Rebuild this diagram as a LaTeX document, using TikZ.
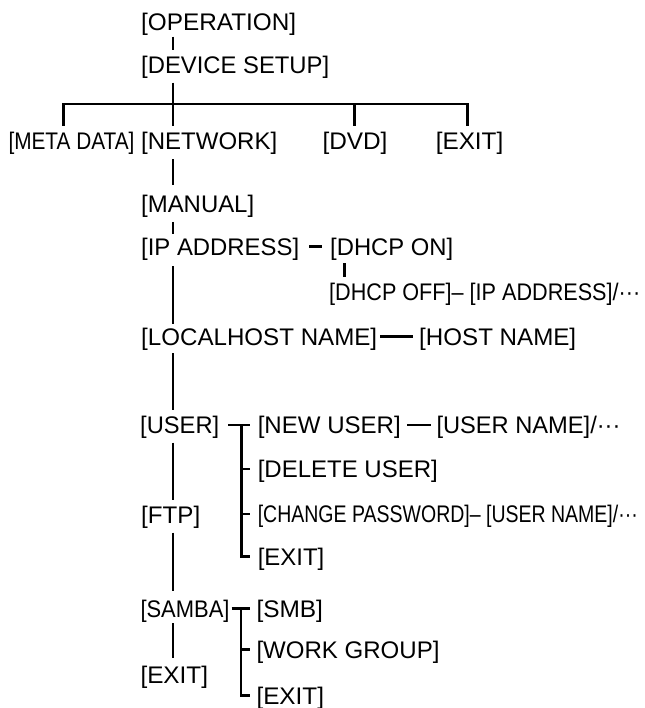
\documentclass[tikz,border=0pt]{standalone}
\usepackage{fontspec}
\setmainfont{Liberation Sans}
\usepackage{graphicx}
\newcommand\lbl[2]{\resizebox{#1pt}{\height}{#2}}
\tikzset{
  lab/.style={anchor=base west, inner sep=0pt, outer sep=0pt, text height=17pt, text depth=0pt,
    font=\fontsize{24pt}{28pt}\selectfont},
  conn/.style={line width=2.6pt, line cap=butt}
}
\begin{document}
\begin{tikzpicture}[x=1pt,y=-1pt]
\useasboundingbox (0,0) rectangle (644,708);
% labels
\node[lab] (op) at (141.2,30.7) {\lbl{155}{[OPERATION]}};
\node[lab] (dev) at (141.2,74) {\lbl{188}{[DEVICE SETUP]}};
\node[lab] (meta) at (8.5,150) {\lbl{126}{[META DATA]}};
\node[lab] (net) at (141.2,150) {\lbl{136}{[NETWORK]}};
\node[lab] (dvd) at (322.5,150) {\lbl{65}{[DVD]}};
\node[lab] (exitA) at (435.8,150) {\lbl{67.5}{[EXIT]}};
\node[lab] (manual) at (141.2,212.3) {\lbl{113}{[MANUAL]}};
\node[lab] (ip) at (141.2,255) {\lbl{158}{[IP ADDRESS]}};
\node[lab] (dhcpon) at (330.2,255) {\lbl{123}{[DHCP ON]}};
\node[lab] (dhcpoff) at (329.2,300) {\lbl{311}{[DHCP OFF]– [IP ADDRESS]/···}};
\node[lab] (localhost) at (141.2,345) {\lbl{236}{[LOCALHOST NAME]}};
\node[lab] (hostname) at (419.2,345) {\lbl{157}{[HOST NAME]}};
\node[lab] (user) at (140.2,433.3) {\lbl{79}{[USER]}};
\node[lab] (newuser) at (257.8,433.3) {\lbl{143}{[NEW USER]}};
\node[lab] (username) at (436.5,433.3) {\lbl{184}{[USER NAME]/···}};
\node[lab] (deluser) at (257.8,477.3) {\lbl{180}{[DELETE USER]}};
\node[lab] (ftp) at (141.2,523.3) {\lbl{59}{[FTP]}};
\node[lab] (change) at (257.8,522.5) {\lbl{380}{[CHANGE PASSWORD]– [USER NAME]/···}};
\node[lab] (exitB) at (257.8,565) {\lbl{66.5}{[EXIT]}};
\node[lab] (samba) at (140.5,617) {\lbl{89}{[SAMBA]}};
\node[lab] (smb) at (256.5,617) {\lbl{66.5}{[SMB]}};
\node[lab] (workgroup) at (256.5,658) {\lbl{183}{[WORK GROUP]}};
\node[lab] (exitC) at (140.5,683.3) {\lbl{67.5}{[EXIT]}};
\node[lab] (exitD) at (256.5,704) {\lbl{67.5}{[EXIT]}};
% helper coordinates
\coordinate (tx) at (173,0);
\coordinate (d1) at (63.3,104);
\coordinate (d2) at (173,104);
\coordinate (d3) at (354.5,104);
\coordinate (d4) at (467.3,104);
\coordinate (dx) at (344.3,0);
\coordinate (ux) at (241.7,0);
\coordinate (sx) at (241,0);
% trunk
\draw[conn, shorten <=6, shorten >=7] (op.south -| tx) -- (dev.north -| tx);
\draw[conn, shorten <=8.7] (dev.south -| tx) -- (d2);
\draw[conn, shorten <=7, shorten >=7] (meta.north -| d1) -- (d1) -- (d4) -- (exitA.north -| d4);
\draw[conn, shorten >=7] (d2) -- (net.north -| d2);
\draw[conn, shorten >=7] (d3) -- (dvd.north -| d3);
\draw[conn, shorten <=9.3, shorten >=10.3] (net.south -| tx) -- (manual.north -| tx);
\draw[conn, shorten <=9.7, shorten >=4] (manual.south -| tx) -- (ip.north -| tx);
\draw[conn, shorten <=11, shorten >=4] (ip.south -| tx) -- (localhost.north -| tx);
\draw[conn, shorten <=8.3, shorten >=6.3] (localhost.south -| tx) -- (user.north -| tx);
\draw[conn, shorten <=9.4, shorten >=6.3] (user.south -| tx) -- (ftp.north -| tx);
\draw[conn, shorten <=9.4, shorten >=9.3] (ftp.south -| tx) -- (samba.north -| tx);
\draw[conn, shorten <=6, shorten >=8.3] (samba.south -| tx) -- (exitC.north -| tx);
% IP branch
\draw[conn, shorten <=9.8, shorten >=8.5] (ip.east) -- (dhcpon.west);
\draw[conn, shorten <=8.3, shorten >=6.3] (dhcpon.south -| dx) -- (dhcpoff.north -| dx);
% host name
\draw[conn, shorten <=2.8, shorten >=6.5] (localhost.east) -- (hostname.west);
% user branch
\draw[conn, shorten <=9.1, shorten >=7.8] (user.east) -- (newuser.west);
\draw[conn, shorten <=6.2, shorten >=5.5] (newuser.east) -- (username.west);
\draw[conn, shorten >=7.8] (newuser.west -| ux) |- (exitB.west);
\draw[conn, shorten >=7.8] (deluser.west -| ux) -- (deluser.west);
\draw[conn, shorten >=7.8] (change.west -| ux) -- (change.west);
% samba branch
\draw[conn, shorten <=2.2, shorten >=6.5] (samba.east) -- (smb.west);
\draw[conn, shorten >=6.5] (smb.west -| sx) |- (exitD.west);
\draw[conn, shorten >=6.5] (workgroup.west -| sx) -- (workgroup.west);
\end{tikzpicture}
\end{document}
